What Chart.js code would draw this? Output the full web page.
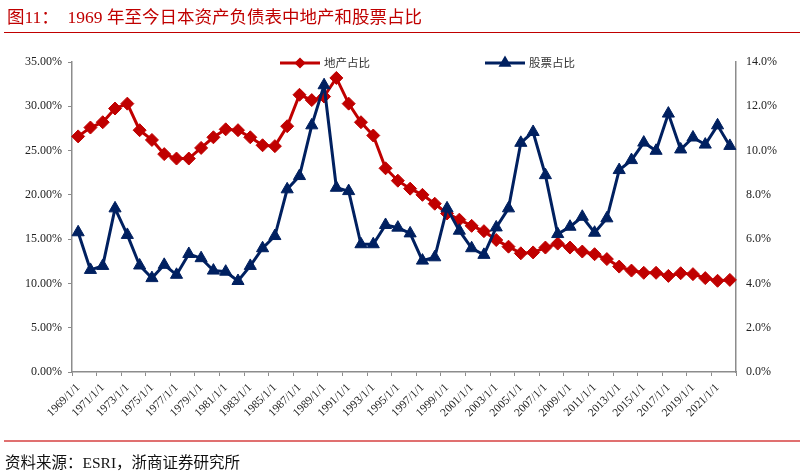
<!DOCTYPE html>
<html>
<head>
<meta charset="utf-8">
<script src="https://cdn.jsdelivr.net/npm/chart.js@4/dist/chart.umd.min.js"></script>
<style>
    body { margin: 0; background: #fff; }
    #wrap { position: relative; width: 802px; height: 472px; overflow: hidden; }
    #chart { position: absolute; left: 0; top: 0; }
    #title {
        position: absolute; left: 7px; top: 3px;
        font-family: "Liberation Serif", "Noto Sans CJK SC", serif;
        font-size: 17.5px; color: #c00000; white-space: pre;
    }
    #titleLine { position: absolute; left: 4px; right: 2px; top: 32px; height: 0; border-top: 1.5px solid #c00000; }
    #footLine { position: absolute; left: 4px; right: 2px; top: 440px; height: 0; border-top: 2px solid #e07070; }
    #source {
        position: absolute; left: 5px; top: 450px;
        font-family: "Liberation Serif", "Noto Sans CJK SC", serif;
        font-size: 15.5px; color: #111; white-space: pre;
    }
</style>
</head>
<body>
<div id="wrap">
    <canvas id="chart" width="802" height="472"></canvas>
    <div id="title">图11：  1969 年至今日本资产负债表中地产和股票占比</div>
    <div id="titleLine"></div>
    <div id="footLine"></div>
    <div id="source">资料来源：ESRI，浙商证券研究所</div>
</div>
<script>
// categories: 1969 - 2022
const years = [
    '1969/1/1', '1970/1/1', '1971/1/1', '1972/1/1', '1973/1/1', '1974/1/1', '1975/1/1', '1976/1/1', '1977/1/1', '1978/1/1',
    '1979/1/1', '1980/1/1', '1981/1/1', '1982/1/1', '1983/1/1', '1984/1/1', '1985/1/1', '1986/1/1', '1987/1/1', '1988/1/1',
    '1989/1/1', '1990/1/1', '1991/1/1', '1992/1/1', '1993/1/1', '1994/1/1', '1995/1/1', '1996/1/1', '1997/1/1', '1998/1/1',
    '1999/1/1', '2000/1/1', '2001/1/1', '2002/1/1', '2003/1/1', '2004/1/1', '2005/1/1', '2006/1/1', '2007/1/1', '2008/1/1',
    '2009/1/1', '2010/1/1', '2011/1/1', '2012/1/1', '2013/1/1', '2014/1/1', '2015/1/1', '2016/1/1', '2017/1/1', '2018/1/1',
    '2019/1/1', '2020/1/1', '2021/1/1', '2022/1/1'
];

// 地产占比 (left axis, %)
const landShare = [
    26.6, 27.6, 28.2, 29.75, 30.3, 27.3, 26.2, 24.6, 24.1, 24.1,
    25.3, 26.5, 27.4, 27.3, 26.5, 25.6, 25.5, 27.75, 31.3, 30.7,
    31.1, 33.2, 30.3, 28.2, 26.7, 23.0, 21.6, 20.7, 20.0, 19.0,
    17.9, 17.2, 16.5, 15.9, 14.9, 14.15, 13.4, 13.5, 14.05, 14.5,
    14.05, 13.6, 13.3, 12.75, 11.9, 11.45, 11.2, 11.2, 10.85, 11.15,
    11.05, 10.6, 10.3, 10.4
];

// 股票占比 (right axis, %)
const stockShare = [
    6.31, 4.61, 4.79, 7.39, 6.19, 4.81, 4.24, 4.84, 4.39, 5.33,
    5.14, 4.58, 4.53, 4.11, 4.79, 5.59, 6.14, 8.25, 8.85, 11.14,
    12.95, 8.32, 8.17, 5.77, 5.77, 6.64, 6.52, 6.26, 5.03, 5.18,
    7.39, 6.38, 5.59, 5.29, 6.53, 7.39, 10.35, 10.84, 8.89, 6.23,
    6.56, 7.01, 6.29, 6.94, 9.12, 9.57, 10.36, 9.99, 11.67, 10.05,
    10.59, 10.27, 11.14, 10.21
];

const seriesNames = ['地产占比', '股票占比'];
const red = '#c00000';
const navy = '#002060';
const axisGrey = '#8c8c8c';
const tickFont = { family: '"Liberation Serif", "Times New Roman", serif', size: 12 };

// Excel style legend: line + marker, sitting inside the plot area
const lineLegend = {
    id: 'lineLegend',
    afterDraw(chart) {
        const ctx = chart.ctx;
        const area = chart.chartArea;
        const y = area.top + 1;
        const items = [
            { x: 280, color: red, style: 'rectRot', r: 3.5, text: seriesNames[0] },
            { x: 485, color: navy, style: 'triangle', r: 4.5, text: seriesNames[1] }
        ];
        ctx.save();
        items.forEach(it => {
            ctx.strokeStyle = it.color;
            ctx.lineWidth = 3;
            ctx.beginPath();
            ctx.moveTo(it.x, y);
            ctx.lineTo(it.x + 40, y);
            ctx.stroke();
            ctx.fillStyle = it.color;
            Chart.helpers.drawPoint(ctx, { pointStyle: it.style, radius: it.r, borderWidth: 1 }, it.x + 20, y);
            ctx.fill();
            ctx.fillStyle = '#333';
            ctx.font = '11.5px "Noto Sans CJK SC"';
            ctx.textBaseline = 'middle';
            ctx.fillText(it.text, it.x + 44, y);
        });
        ctx.restore();
    }
};

new Chart(document.getElementById('chart'), {
    type: 'line',
    data: {
        labels: years,
        datasets: [{
            label: seriesNames[1],
            data: stockShare,
            yAxisID: 'y1',
            borderColor: navy,
            backgroundColor: navy,
            borderWidth: 3,
            pointStyle: 'triangle',
            pointRadius: 7,
            pointBorderWidth: 1,
            tension: 0
        }, {
            label: seriesNames[0],
            data: landShare,
            yAxisID: 'y',
            borderColor: red,
            backgroundColor: red,
            borderWidth: 3,
            pointStyle: 'rectRot',
            pointRadius: 6.5,
            pointBorderWidth: 1,
            tension: 0
        }]
    },
    options: {
        responsive: false,
        animation: false,
        layout: { padding: { top: 62, left: 0, right: 0, bottom: 0 } },
        plugins: { legend: { display: false }, tooltip: { enabled: false } },
        scales: {
            x: {
                offset: true,
                grid: {
                    offset: true,
                    drawOnChartArea: false,
                    tickLength: 4,
                    tickColor: c => (c.index === undefined || c.index % 2 === 0) ? axisGrey : 'rgba(0,0,0,0)'
                },
                border: { color: axisGrey, width: 1.5 },
                ticks: {
                    autoSkip: false,
                    maxRotation: 45,
                    minRotation: 45,
                    padding: 5,
                    color: '#222',
                    font: { family: tickFont.family, size: 11.5 },
                    callback: (v, i) => i % 2 === 0 ? years[i] : ''
                },
                afterFit: s => { s.height = 100; }
            },
            y: {
                position: 'left',
                min: 0,
                max: 35,
                grid: { drawOnChartArea: false, tickLength: 4, tickColor: axisGrey },
                border: { color: axisGrey, width: 1.5 },
                ticks: {
                    stepSize: 5,
                    padding: 6,
                    color: '#222',
                    font: tickFont,
                    callback: v => v.toFixed(2) + '%'
                },
                afterFit: s => { s.width = 72; }
            },
            y1: {
                position: 'right',
                min: 0,
                max: 14,
                grid: { drawOnChartArea: false, tickLength: 4, tickColor: 'rgba(0,0,0,0)' },
                border: { color: axisGrey, width: 1.5 },
                ticks: {
                    stepSize: 2,
                    padding: 6,
                    color: '#222',
                    font: tickFont,
                    callback: v => v.toFixed(1) + '%'
                },
                afterFit: s => { s.width = 66; }
            }
        }
    },
    plugins: [lineLegend]
});
</script>
</body>
</html>
